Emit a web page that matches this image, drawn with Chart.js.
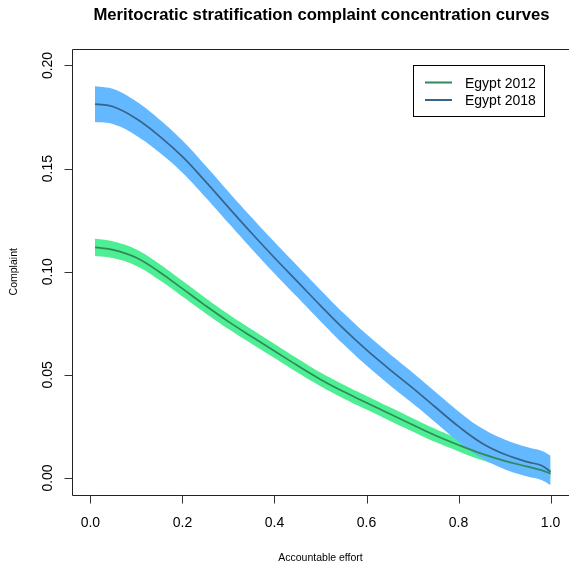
<!DOCTYPE html>
<html>
<head>
<meta charset="utf-8">
<script src="https://cdn.jsdelivr.net/npm/chart.js@4"></script>
<style>
  html, body { margin: 0; padding: 0; background: #fff; overflow: hidden; }
  canvas { display: block; }
</style>
</head>
<body>
<canvas id="chart" width="569" height="562"></canvas>
<script>
// Accountable effort (x) and the two concentration curves with their bands
const effort = [0.01, 0.05, 0.10, 0.15, 0.20, 0.25, 0.30, 0.35, 0.40, 0.45, 0.50,
  0.55, 0.60, 0.65, 0.70, 0.75, 0.80, 0.85, 0.90, 0.95, 0.98, 1.00];

const egypt2018 = [0.1813, 0.1800, 0.1742, 0.1658, 0.1558, 0.1438, 0.1312, 0.1188, 0.1068, 0.0952, 0.0836,
  0.0724, 0.0621, 0.0527, 0.0437, 0.0343, 0.0250, 0.0170, 0.0115, 0.0078, 0.0061, 0.0030];
const egypt2018Upper = [0.1900, 0.1886, 0.1825, 0.1738, 0.1636, 0.1515, 0.1388, 0.1264, 0.1144, 0.1028, 0.0912,
  0.0800, 0.0697, 0.0603, 0.0512, 0.0417, 0.0323, 0.0242, 0.0187, 0.0149, 0.0132, 0.0108];
const egypt2018Lower = [0.1726, 0.1715, 0.1660, 0.1578, 0.1480, 0.1361, 0.1236, 0.1112, 0.0992, 0.0876, 0.0760,
  0.0648, 0.0545, 0.0451, 0.0362, 0.0269, 0.0176, 0.0097, 0.0043, 0.0007, -0.0010, -0.0035];

const egypt2012 = [0.1118, 0.1106, 0.1068, 0.0999, 0.0918, 0.0836, 0.0758, 0.0686, 0.0616, 0.0545, 0.0478,
  0.0419, 0.0365, 0.0311, 0.0258, 0.0206, 0.0160, 0.0118, 0.0083, 0.0055, 0.0038, 0.0021];
const egypt2012Upper = [0.1160, 0.1147, 0.1108, 0.1038, 0.0956, 0.0873, 0.0794, 0.0721, 0.0650, 0.0579, 0.0511,
  0.0452, 0.0398, 0.0344, 0.0290, 0.0238, 0.0191, 0.0149, 0.0113, 0.0084, 0.0067, 0.0049];
const egypt2012Lower = [0.1076, 0.1065, 0.1028, 0.0960, 0.0880, 0.0799, 0.0722, 0.0651, 0.0582, 0.0511, 0.0445,
  0.0386, 0.0332, 0.0278, 0.0226, 0.0174, 0.0129, 0.0087, 0.0053, 0.0026, 0.0009, -0.0007];

const xTicks = [0, 0.2, 0.4, 0.6, 0.8, 1.0];
const xTickLabels = ["0.0", "0.2", "0.4", "0.6", "0.8", "1.0"];
const yTicks = [0, 0.05, 0.10, 0.15, 0.20];
const yTickLabels = ["0.00", "0.05", "0.10", "0.15", "0.20"];

const seriesNames = ["Egypt 2012", "Egypt 2018"];
const lineColors = ["#2E8B57", "#36648B"];
const bandColors = ["#4EEE94", "#63B8FF"];

const FONT = "'Liberation Sans', Arial, Helvetica, sans-serif";

function pts(ys) {
  return effort.map((x, i) => ({ x: x, y: ys[i] }));
}

// titre, axes, graduations, cadre et légende
const decor = {
  id: "decor",
  afterDraw(chart) {
    const { ctx, chartArea: a, scales, width } = chart;
    const xs = scales.x, ys = scales.y;
    ctx.save();

    // cadre (le côté droit sort de l'image)
    const L = Math.round(a.left) + 0.5, T = Math.round(a.top) + 0.5, B = Math.round(a.bottom) + 0.5;
    const R = width + 2;
    ctx.strokeStyle = "#222";
    ctx.lineWidth = 1;
    ctx.beginPath();
    ctx.moveTo(R, T);
    ctx.lineTo(L, T);
    ctx.lineTo(L, B);
    ctx.lineTo(R, B);
    ctx.stroke();

    // graduations
    ctx.strokeStyle = "#333";
    ctx.beginPath();
    xTicks.forEach(v => {
      const px = Math.round(xs.getPixelForValue(v)) + 0.5;
      ctx.moveTo(px, B);
      ctx.lineTo(px, B + 8);
    });
    yTicks.forEach(v => {
      const py = Math.round(ys.getPixelForValue(v)) + 0.5;
      ctx.moveTo(L, py);
      ctx.lineTo(L - 8, py);
    });
    ctx.stroke();

    ctx.fillStyle = "#000";
    ctx.textAlign = "center";
    ctx.textBaseline = "alphabetic";

    // étiquettes des axes
    ctx.font = "14px " + FONT;
    xTicks.forEach((v, i) => {
      ctx.fillText(xTickLabels[i], xs.getPixelForValue(v), 527);
    });
    yTicks.forEach((v, i) => {
      ctx.save();
      ctx.translate(52, ys.getPixelForValue(v));
      ctx.rotate(-Math.PI / 2);
      ctx.fillText(yTickLabels[i], 0, 0);
      ctx.restore();
    });

    // titre
    ctx.font = "bold 16.7px " + FONT;
    ctx.fillText("Meritocratic stratification complaint concentration curves", (a.left + a.right) / 2 + 1, 20);

    // titres des axes
    ctx.font = "10.5px " + FONT;
    ctx.fillText("Accountable effort", (a.left + a.right) / 2, 561);
    ctx.save();
    ctx.translate(16.5, (a.top + a.bottom) / 2);
    ctx.rotate(-Math.PI / 2);
    ctx.fillText("Complaint", 0, 0);
    ctx.restore();

    // légende
    ctx.font = "14px " + FONT;
    const lx = 413.5, ly = 65.5, lw = 131, lh = 51;
    ctx.fillStyle = "#fff";
    ctx.fillRect(lx, ly, lw, lh);
    ctx.strokeStyle = "#000";
    ctx.strokeRect(lx, ly, lw, lh);
    ctx.textAlign = "left";
    seriesNames.forEach((name, i) => {
      const yy = 82.5 + i * 17.5;
      ctx.strokeStyle = lineColors[i];
      ctx.lineWidth = 2;
      ctx.beginPath();
      ctx.moveTo(425, yy);
      ctx.lineTo(452, yy);
      ctx.stroke();
      ctx.fillStyle = "#000";
      ctx.fillText(name, 465, yy + 5);
    });
    ctx.restore();
  }
};

const bandStyle = { borderWidth: 0, pointRadius: 0, tension: 0.4 };
const lineStyle = { borderWidth: 1.7, pointRadius: 0, fill: false, tension: 0.4 };

new Chart(document.getElementById("chart"), {
  type: "line",
  data: {
    datasets: [
      { ...bandStyle, label: "2018 upper", data: pts(egypt2018Upper), fill: 1, backgroundColor: bandColors[1], order: 3 },
      { ...bandStyle, label: "2018 lower", data: pts(egypt2018Lower), fill: false, order: 3 },
      { ...bandStyle, label: "2012 upper", data: pts(egypt2012Upper), fill: 3, backgroundColor: bandColors[0], order: 4 },
      { ...bandStyle, label: "2012 lower", data: pts(egypt2012Lower), fill: false, order: 4 },
      { ...lineStyle, label: seriesNames[0], data: pts(egypt2012), borderColor: lineColors[0], order: 2 },
      { ...lineStyle, label: seriesNames[1], data: pts(egypt2018), borderColor: lineColors[1], order: 1 },
    ]
  },
  options: {
    responsive: false,
    animation: false,
    layout: { padding: { top: 49, left: 0, right: 0, bottom: 0 } },
    plugins: { legend: { display: false }, tooltip: { enabled: false }, title: { display: false } },
    scales: {
      x: {
        type: "linear",
        min: -0.04,
        max: 1.04,
        afterBuildTicks: (s) => { s.ticks = xTicks.map(v => ({ value: v })); },
        afterFit: (s) => { s.height = 67.5; },
        grid: { display: false },
        border: { display: false },
        ticks: { display: false }
      },
      y: {
        type: "linear",
        min: -0.008,
        max: 0.208,
        afterBuildTicks: (s) => { s.ticks = yTicks.map(v => ({ value: v })); },
        afterFit: (s) => { s.width = 72; },
        grid: { display: false },
        border: { display: false },
        ticks: { display: false }
      }
    }
  },
  plugins: [decor]
});
</script>
</body>
</html>
